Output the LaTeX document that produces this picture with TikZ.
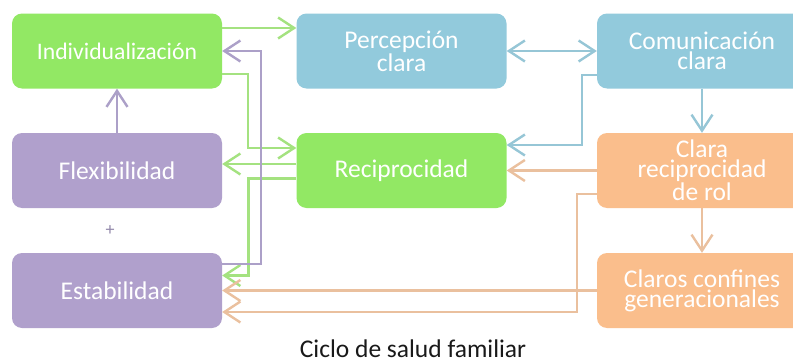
\documentclass[tikz,border=0pt]{standalone}
\usepackage{fontspec}
\setmainfont{Carlito}
\usetikzlibrary{arrows.meta}
\definecolor{gfill}{RGB}{146,232,100}
\definecolor{bfill}{RGB}{146,202,220}
\definecolor{pfill}{RGB}{176,160,204}
\definecolor{ofill}{RGB}{250,190,140}
\definecolor{gline}{RGB}{164,226,128}
\definecolor{bline}{RGB}{150,198,214}
\definecolor{pline}{RGB}{172,160,200}
\definecolor{oline}{RGB}{234,192,158}
\definecolor{captxt}{RGB}{25,25,25}
\tikzset{
  box/.style={rounded corners=10pt, minimum width=210pt, minimum height=75pt,
    text=white, align=center, inner sep=0pt,
    font=\fontsize{25.5}{20}\selectfont},
  gbox/.style={box, fill=gfill},
  bbox/.style={box, fill=bfill},
  pbox/.style={box, fill=pfill},
  obox/.style={box, fill=ofill},
  conn/.style={line width=2.4pt, -{Straight Barb[length=16pt,width=21pt,line width=2.4pt]}},
  gconn/.style={conn, draw=gline},
  bconn/.style={conn, draw=bline},
  pconn/.style={conn, draw=pline},
  oconn/.style={conn, draw=oline},
}
\begin{document}
\begin{tikzpicture}[x=1pt,y=-1pt]
\clip (0,0) rectangle (793,364);
\fill[white] (0,0) rectangle (793,364);
% nodes
\node[gbox, font=\fontsize{23.7}{20}\selectfont] (ind) at (117,51) {Individualización};
\node[bbox] (per) at (401.5,51) {Percepción\\clara};
\node[bbox] (com) at (702,51) {Comunicación\\clara};
\node[pbox] (fle) at (117,170.5) {Flexibilidad};
\node[gbox] (rec) at (401.5,170.5) {Reciprocidad};
\node[obox] (cla) at (702,170.5) {Clara\\reciprocidad\\de rol};
\node[pbox] (est) at (117,290.5) {Estabilidad};
\node[obox] (gen) at (702,290.5) {Claros confines\\generacionales};
\node[text=pline!85!black, font=\fontsize{18}{18}\selectfont] (plus) at (110,231) {+};
\node[text=captxt, font=\fontsize{25.5}{26}\selectfont] (cap) at (413,349) {Ciclo de salud familiar};
% green connectors
\draw[gconn] ([yshift=23pt]ind.east) -- ([yshift=23pt]per.west);
\draw[gconn] ([yshift=-23pt]ind.east) -- ++(26,0) |- ([yshift=22.5pt]rec.west);
\draw[gconn] ([yshift=6.5pt]rec.west) -- ([yshift=6.5pt]fle.east);
\draw[gconn] ([yshift=-8pt]rec.west) -- ++(-48,0) |- ([yshift=15pt]est.east);
% purple connectors
\draw[pconn] ([yshift=26.5pt]est.east) -- ++(39,0) |- (ind.east);
\draw[pconn] (fle.north) -- (ind.south);
% blue connectors
\draw[bconn, {Straight Barb[length=16pt,width=21pt,line width=2.4pt]}-{Straight Barb[length=16pt,width=21pt,line width=2.4pt]}] (per.east) -- (com.west);
\draw[bconn] ([yshift=-24pt]com.west) -- ++(-15,0) |- ([yshift=25.5pt]rec.east);
\draw[bconn] (com.south) -- (cla.north);
% orange connectors
\draw[oconn] (cla.west) -- (rec.east);
\draw[oconn] ([yshift=-23.5pt]cla.west) -- ++(-20,0) |- ([yshift=-21.5pt]est.east);
\draw[oconn] (gen.west) -- (est.east);
\draw[oconn] (cla.south) -- (gen.north);
\end{tikzpicture}
\end{document}
